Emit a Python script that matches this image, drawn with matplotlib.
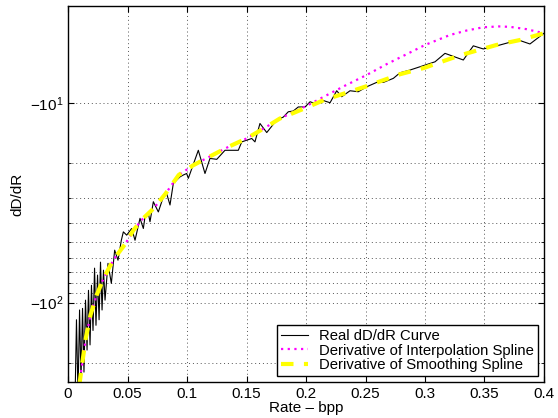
import numpy as np
import matplotlib
matplotlib.use('Agg')
import matplotlib.pyplot as plt
from matplotlib.ticker import FixedLocator, NullFormatter

plt.rcParams['font.family'] = ['Liberation Sans', 'DejaVu Sans']
plt.rcParams['mathtext.default'] = 'regular'

# real dD/dR curve (noisy)
real_x = [0.0059, 0.0071, 0.0084, 0.0097, 0.0109, 0.0122, 0.0134, 0.0147, 0.0160, 0.0172,
          0.0185, 0.0197, 0.0210, 0.0223, 0.0235, 0.0248, 0.0261, 0.0273, 0.0286, 0.0298,
          0.0311, 0.0336, 0.0364, 0.0392, 0.0420, 0.0448, 0.0465,
          0.0493, 0.0535, 0.0563, 0.0605, 0.0633, 0.0647, 0.0675, 0.0689, 0.0717, 0.0759,
          0.0801, 0.0829, 0.0857, 0.0885, 0.0941, 0.0969, 0.0997, 0.1011, 0.1095, 0.1151,
          0.1193, 0.1250, 0.1319, 0.1431, 0.1460, 0.1544, 0.1571, 0.1613, 0.1670, 0.1754,
          0.1809, 0.1851, 0.1893, 0.1935, 0.1992, 0.2034, 0.2090, 0.2132, 0.2202, 0.2258,
          0.2300, 0.2370, 0.2439, 0.2510, 0.2594, 0.2650, 0.2734, 0.2790, 0.2874, 0.3084,
          0.3168, 0.3322, 0.3406, 0.3490, 0.3630, 0.3784, 0.3882, 0.4000]
real_y = [-308, -122, -291, -109, -245, -107, -223, -97.3, -173, -86.9,
          -163, -82.0, -138, -67.3, -130, -72.9, -122, -62.8, -109, -68.9,
          -97.3, -63.7, -80.2, -54.7, -61.4, -48.8, -44.3,
          -46.0, -42.6, -48.8, -37.9, -42.6, -37.2, -35.8, -39.4, -31.3, -35.2,
          -29.6, -28.5, -32.5, -25.3, -23.5, -23.0, -22.6, -23.9, -17.3, -22.6,
          -19.0, -19.2, -17.3, -17.3, -15.7, -15.1, -15.7, -12.7, -14.1, -12.2,
          -11.8, -11.1, -11.0, -10.5, -10.5, -9.89, -10.15, -9.69, -10.0, -8.71,
          -9.33, -8.71, -8.81, -8.32, -7.91, -7.91, -7.55, -7.08, -6.86, -6.24,
          -5.66, -6.11, -5.19, -5.38, -5.14, -4.85, -5.08, -4.49]

# derivative of smoothing spline
smooth_x = [0.0095, 0.012, 0.015, 0.019, 0.024, 0.029, 0.035, 0.040, 0.048, 0.055,
            0.063, 0.072, 0.082, 0.093, 0.105, 0.119, 0.135, 0.150, 0.165, 0.178,
            0.200, 0.215, 0.250, 0.279, 0.299, 0.329, 0.360, 0.380, 0.400]
smooth_y = [-260, -200, -150, -115, -92, -78, -66, -59, -51, -43.4,
            -38, -33.8, -28.5, -23.0, -20.6, -18.6, -16.6, -15.1, -13.4, -12.0,
            -10.6, -9.7, -8.3, -7.2, -6.7, -5.8, -5.14, -4.85, -4.49]

# derivative of interpolation spline
interp_x = [0.0095, 0.012, 0.015, 0.019, 0.024, 0.029, 0.035, 0.040, 0.048, 0.055,
            0.063, 0.072, 0.082, 0.093, 0.105, 0.119, 0.135, 0.150, 0.165, 0.178,
            0.200, 0.215, 0.233, 0.251, 0.268, 0.286, 0.300, 0.321, 0.335, 0.349,
            0.362, 0.3714, 0.385, 0.400]
interp_y = [-260, -200, -150, -115, -92, -78, -66, -59, -51, -43.4,
            -38, -33.8, -28.5, -23.0, -20.6, -18.6, -16.6, -15.1, -13.4, -12.0,
            -10.4, -9.33, -8.2, -7.26, -6.4, -5.66, -5.14, -4.58, -4.35, -4.19,
            -4.15, -4.17, -4.28, -4.49]

x_ticks = [0, 0.05, 0.1, 0.15, 0.2, 0.25, 0.3, 0.35, 0.4]
x_labels = ['0', '0.05', '0.1', '0.15', '0.2', '0.25', '0.3', '0.35', '0.4']
y_major = [-100, -10]
y_labels = [r'$-10^2$', r'$-10^1$']
y_minor = [-200, -90, -80, -70, -60, -50, -40, -30, -20]


def fwd(y):
    with np.errstate(invalid='ignore', divide='ignore'):
        return -np.log10(-np.asarray(y, dtype=float))


def inv(t):
    return -10.0 ** (-np.asarray(t, dtype=float))


fig = plt.figure(figsize=(5.58, 4.18), dpi=100)
ax = fig.add_axes([0.1219, 0.0861, 0.853, 0.8995])
ax.set_yscale('function', functions=(fwd, inv))

ax.plot(real_x, real_y, color='black', lw=0.8, label='Real dD/dR Curve')
ax.plot(interp_x, interp_y, color='#ff00ff', lw=1.6, ls=(0, (1, 2)), label='Derivative of Interpolation Spline')
ax.plot(smooth_x, smooth_y, color='#ffff00', lw=3, ls=(0, (3, 2.5)), label='Derivative of Smoothing Spline')

ax.set_xlim(0, 0.4)
ax.set_ylim(-250, -3.28)
ax.set_xticks(x_ticks)
ax.set_xticklabels(x_labels)
ax.yaxis.set_major_locator(FixedLocator(y_major))
ax.set_yticklabels(y_labels)
ax.yaxis.set_minor_locator(FixedLocator(y_minor))
ax.yaxis.set_minor_formatter(NullFormatter())

ax.tick_params(which='both', direction='in', top=True, right=True, labelsize=11)
ax.tick_params(which='major', length=4)
ax.tick_params(which='minor', length=2.5)
ax.grid(True, which='major', ls=(0, (1, 3)), color='#555555', lw=0.7)
ax.grid(True, which='minor', axis='y', ls=(0, (1, 3)), color='#555555', lw=0.7)
for s in ax.spines.values():
    s.set_linewidth(1.0)

ax.set_xlabel('Rate \u2013 bpp', fontsize=11, labelpad=0)
ax.set_ylabel('dD/dR', fontsize=11)

leg = ax.legend(loc='lower right', fontsize=10.7, fancybox=False, framealpha=1,
                edgecolor='black', borderaxespad=0.4, handlelength=1.8,
                borderpad=0.25, labelspacing=0.05)
leg.get_frame().set_linewidth(1.0)

fig.savefig('out.png', dpi=100)
